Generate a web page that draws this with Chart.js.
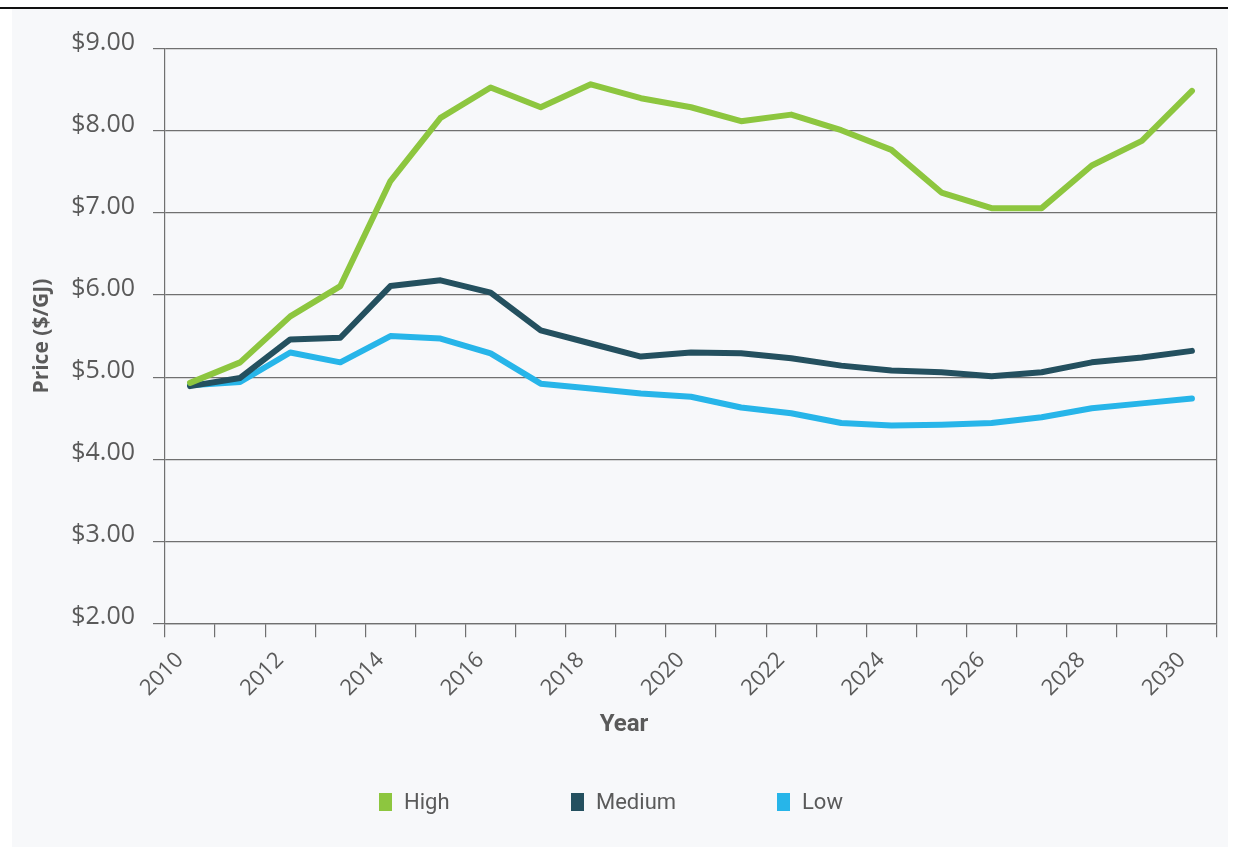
<!DOCTYPE html>
<html>
<head>
<meta charset="utf-8">
<script src="https://cdn.jsdelivr.net/npm/chart.js@4.4.1/dist/chart.umd.min.js"></script>
<style>
  html, body { margin: 0; padding: 0; background: #fff; }
  #topline { position: absolute; left: 0; top: 7px; width: 1228px; height: 2px; background: #111; }
  #frame { position: absolute; left: 12px; top: 9px; width: 1216px; height: 838px; background: #f7f8fa; }
  #chartBox { position: absolute; left: 0; top: 0; width: 1216px; height: 838px; }
  #legend {
    position: absolute; left: 367px; top: 780px;
    display: flex;
    font-family: Roboto, sans-serif; font-size: 22px; color: #5a5a5a;
  }
  #legend .item { display: flex; align-items: center; }
  #legend .item:nth-child(1) { width: 192px; }
  #legend .item:nth-child(2) { width: 206px; }
  #legend .swatch { width: 13px; height: 18px; margin-right: 12px; }
</style>
</head>
<body>
<div id="topline"></div>
<div id="frame">
  <div id="chartBox"><canvas id="priceChart"></canvas></div>
  <div id="legend"></div>
</div>
<script>
// Gas price forecast scenarios ($/GJ), one value per year
const years = [2010, 2011, 2012, 2013, 2014, 2015, 2016, 2017, 2018, 2019, 2020,
               2021, 2022, 2023, 2024, 2025, 2026, 2027, 2028, 2029, 2030];
const seriesNames = ['High', 'Medium', 'Low'];
const high = [4.93, 5.18, 5.74, 6.11, 7.39, 8.16, 8.53, 8.29, 8.57, 8.40, 8.29,
              8.12, 8.20, 8.01, 7.77, 7.25, 7.06, 7.06, 7.58, 7.88, 8.49];
const medium = [4.89, 4.99, 5.46, 5.48, 6.11, 6.18, 6.03, 5.57, 5.41, 5.25, 5.30,
                5.29, 5.23, 5.14, 5.08, 5.06, 5.01, 5.06, 5.18, 5.24, 5.32];
const low = [4.90, 4.94, 5.30, 5.18, 5.50, 5.47, 5.29, 4.92, 4.86, 4.80, 4.76,
             4.63, 4.56, 4.44, 4.41, 4.42, 4.44, 4.51, 4.62, 4.68, 4.74];
const yTicks = [2, 3, 4, 5, 6, 7, 8, 9];
const colors = ['#8dc63f', '#24505f', '#27b5e9'];

const gridGray = '#707070';
const textGray = '#5a5a5a';
const lastEdge = years[years.length - 1] + 1;

// points sit in the middle of each year, year labels on the boundaries
const toPoints = arr => arr.map((v, i) => ({ x: years[i] + 0.5, y: v }));

const chart = new Chart(document.getElementById('priceChart'), {
  type: 'line',
  data: {
    datasets: [high, medium, low].map((arr, i) => ({
      label: seriesNames[i],
      data: toPoints(arr),
      borderColor: colors[i],
      backgroundColor: colors[i],
      borderWidth: 6,
      pointRadius: 0,
      tension: 0,
      borderCapStyle: 'round',
      borderJoinStyle: 'round'
    }))
  },
  options: {
    responsive: true,
    maintainAspectRatio: false,
    animation: false,
    layout: { padding: { top: 40, right: 11, left: 19, bottom: 108 } },
    scales: {
      x: {
        type: 'linear',
        min: years[0],
        max: lastEdge,
        afterBuildTicks: scale => {
          scale.ticks = years.concat([lastEdge]).map(v => ({ value: v }));
        },
        afterFit: scale => {
          scale.height = 87;
          scale.paddingLeft = 0;
          scale.paddingRight = 0;
        },
        ticks: {
          autoSkip: false,
          minRotation: 45,
          maxRotation: 45,
          padding: 10,
          labelOffset: 15,
          color: textGray,
          font: { family: 'Open Sans', size: 22 },
          callback: v => (v % 2 === 0 && v < lastEdge) ? String(v) : ''
        },
        grid: {
          drawOnChartArea: true,
          color: c => (c.tick && c.tick.value === lastEdge) ? gridGray : 'rgba(0,0,0,0)',
          tickColor: gridGray,
          tickLength: 14,
          lineWidth: 1.2
        },
        border: { color: gridGray, width: 1.2 }
      },
      y: {
        min: 2,
        max: 9,
        afterBuildTicks: scale => { scale.ticks = yTicks.map(v => ({ value: v })); },
        afterFit: scale => { scale.width = 134; },
        ticks: {
          padding: 18,
          labelOffset: -6,
          color: textGray,
          font: { family: 'Open Sans', size: 25 },
          callback: v => '$' + v.toFixed(2)
        },
        grid: { color: gridGray, tickLength: 12, lineWidth: 1.2 },
        border: { color: gridGray, width: 1.2 },
        title: {
          display: true,
          text: 'Price ($/GJ)',
          color: textGray,
          font: { family: 'Open Sans', size: 21, weight: 'bold' },
          padding: { top: -2, bottom: 0 }
        }
      }
    },
    plugins: {
      legend: { display: false },
      tooltip: { enabled: false },
      title: {
        display: true,
        position: 'bottom',
        text: 'Year',
        color: textGray,
        font: { family: 'Roboto', size: 24, weight: 'bold' },
        padding: { top: 0, bottom: 0 }
      }
    }
  }
});

// legend built from the datasets
const legendEl = document.getElementById('legend');
chart.data.datasets.forEach(ds => {
  const item = document.createElement('div');
  item.className = 'item';
  const sw = document.createElement('span');
  sw.className = 'swatch';
  sw.style.background = ds.borderColor;
  const label = document.createElement('span');
  label.textContent = ds.label;
  item.appendChild(sw);
  item.appendChild(label);
  legendEl.appendChild(item);
});
</script>
</body>
</html>
